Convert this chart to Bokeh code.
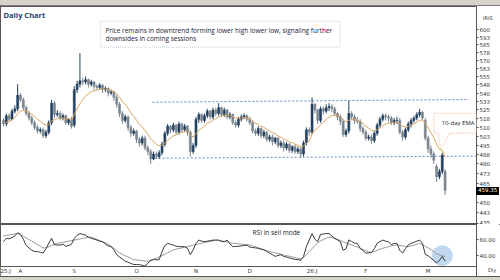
import numpy as np
from bokeh.plotting import figure
from bokeh.models import (Range1d, FixedTicker, Label, BoxAnnotation, PolyAnnotation,
                          ColumnDataSource, Div)
from bokeh.layouts import column
from bokeh.embed import file_html
from bokeh.resources import INLINE

# ---------------- data ----------------
month_labels = ["25:J", "A", "S", "O", "N", "D", "26:J", "F", "M"]
month_start_idx = [0, 6, 25, 47, 68, 87, 109, 128, 150]

open_ = [
    516, 513, 520, 517, 524, 526, 538, 534, 527, 522,
    518, 514, 510, 507, 508, 503, 506, 514, 531, 521,
    522, 518, 520, 514, 517, 512, 543, 548, 551, 550,
    552, 548, 550, 546, 545, 547, 543, 544, 540, 541,
    536, 530, 522, 516, 519, 510, 505, 507, 500, 497,
    501, 493, 490, 484, 488, 486, 489, 496, 505, 511,
    508, 512, 506, 513, 508, 511, 506, 490, 495, 517,
    521, 516, 520, 524, 519, 525, 522, 527, 521, 525,
    519, 521, 514, 512, 517, 519, 520, 517, 514, 507,
    505, 509, 503, 506, 500, 502, 498, 501, 495, 497,
    493, 496, 491, 494, 490, 492, 488, 497, 508, 506,
    530, 525, 516, 526, 524, 527, 528, 526, 522, 519,
    515, 504, 507, 522, 519, 516, 515, 509, 506, 501,
    502, 499, 505, 512, 517, 520, 519, 518, 514, 516,
    516, 506, 502, 508, 513, 516, 518, 521, 523, 516,
    501, 492, 488, 478, 470, 474, 474]
high = [
    518, 522, 522, 526, 529, 548, 540, 536, 529, 524,
    520, 516, 512, 510, 510, 508, 516, 534, 533, 525,
    524, 522, 521, 518, 519, 546, 551, 577, 554, 555,
    553, 552, 551, 548, 549, 548, 546, 545, 543, 542,
    538, 532, 524, 521, 520, 512, 509, 508, 502, 503,
    503, 495, 492, 490, 490, 491, 498, 507, 513, 512,
    514, 513, 515, 514, 513, 512, 508, 497, 519, 523,
    522, 522, 526, 525, 527, 527, 531, 528, 527, 526,
    523, 522, 516, 519, 521, 522, 521, 519, 516, 509,
    511, 510, 508, 507, 504, 504, 502, 502, 499, 499,
    498, 497, 495, 496, 494, 494, 499, 510, 510, 536,
    531, 526, 528, 528, 530, 531, 530, 528, 523, 521,
    517, 509, 533, 524, 521, 519, 517, 511, 508, 504,
    504, 507, 514, 519, 522, 522, 521, 520, 518, 519,
    518, 508, 510, 515, 518, 520, 523, 526, 524, 518,
    503, 495, 490, 480, 476, 489, 476]
low = [
    511, 511, 515, 516, 522, 524, 532, 525, 520, 516,
    512, 508, 505, 505, 501, 501, 504, 512, 518, 519,
    516, 516, 512, 512, 509, 510, 540, 545, 547, 548,
    545, 546, 543, 543, 543, 540, 541, 537, 538, 533,
    527, 519, 513, 514, 507, 502, 503, 497, 494, 495,
    491, 487, 480, 483, 484, 484, 487, 494, 503, 505,
    506, 504, 504, 506, 506, 503, 486, 488, 493, 514,
    514, 514, 518, 517, 517, 520, 520, 519, 519, 517,
    517, 512, 510, 510, 515, 517, 515, 512, 505, 503,
    503, 501, 501, 498, 498, 495, 496, 493, 493, 490,
    491, 489, 489, 488, 488, 485, 486, 495, 503, 504,
    522, 513, 514, 521, 522, 524, 523, 520, 516, 512,
    502, 502, 505, 517, 513, 513, 506, 504, 499, 499,
    496, 497, 503, 510, 515, 516, 515, 512, 512, 513,
    504, 499, 500, 506, 510, 514, 516, 519, 516, 499,
    489, 485, 480, 466, 468, 472, 456]
close = [
    513, 520, 517, 524, 526, 538, 534, 527, 522, 518,
    514, 510, 507, 508, 503, 506, 514, 531, 521, 522,
    518, 520, 514, 517, 511, 543, 548, 551, 550, 552,
    548, 550, 546, 545, 547, 543, 544, 540, 541, 536,
    530, 522, 516, 519, 510, 505, 507, 500, 497, 501,
    493, 490, 484, 488, 486, 489, 496, 505, 511, 508,
    512, 506, 513, 508, 511, 506, 490, 495, 517, 521,
    516, 520, 524, 519, 525, 522, 527, 521, 525, 519,
    521, 514, 512, 517, 519, 520, 517, 514, 507, 505,
    509, 503, 506, 500, 502, 498, 501, 495, 497, 493,
    496, 491, 494, 490, 492, 488, 497, 508, 506, 530,
    525, 516, 526, 524, 527, 528, 526, 522, 519, 515,
    504, 507, 522, 519, 516, 515, 509, 506, 501, 502,
    499, 505, 512, 517, 520, 519, 518, 514, 516, 516,
    506, 502, 508, 513, 516, 518, 521, 523, 518, 501,
    492, 488, 483, 470, 474, 487, 459.35]

rsi = [
    57, 61, 60.5, 62, 64, 68, 66, 60, 52, 49,
    46, 44.5, 44.4, 43.5, 42.5, 48, 55, 61, 53, 52.6,
    52.6, 53.5, 51, 52, 53.5, 61, 65, 67, 66, 65,
    62.5, 61, 60, 58.8, 57.5, 56.7, 54, 51.5, 50.6, 46.5,
    40.4, 37.5, 35, 32.2, 31, 29.5, 28.1, 28.1, 28, 27,
    26, 30, 33, 34.2, 34.2, 34.2, 44.4, 52, 54.7, 53.5,
    52.6, 51, 50.6, 50.6, 50.6, 48.5, 40.4, 46.5, 54.7, 58.8,
    57.5, 56.7, 57.5, 58, 58.8, 58.8, 58.8, 57, 56.7, 58.8,
    54, 50.6, 50.8, 51, 51.5, 52, 52.6, 50, 49.5, 49,
    48.5, 47.3, 46.5, 44.5, 42.4, 40.5, 38.3, 39.5, 40.4, 38.3,
    37.5, 36.3, 35.5, 34.5, 34.2, 33.4, 38.3, 50.6, 58.8, 67,
    60, 56.7, 66, 66.5, 67, 67, 64, 60.8, 59, 56.7,
    46, 48, 59, 57, 55, 54.7, 48.5, 45.5, 42.4, 42.8,
    43, 48, 54.7, 57, 58.8, 57.5, 56.7, 53, 54.7, 54.7,
    46, 42.4, 48, 52.6, 54.7, 56, 57.5, 58.8, 54.7, 41,
    39, 36.3, 33, 30.2, 33, 38.3, 32.5]

rsi_signal = [
    64, 64.7, 65.3, 66, 66.7, 67, 65.5, 63.5, 61.5, 59.5,
    57.5, 55.5, 53.3, 51, 49, 49, 50.5, 52, 53.5, 54.7,
    55.4, 56, 56.7, 57.4, 58.1, 58.8, 59.5, 60.2, 60.9, 61.6,
    62.3, 62.5, 61, 59.6, 58.2, 56.8, 55.4, 53.6, 51, 48.5,
    45.5, 42.5, 41, 39.2, 37.5, 35.8, 34.2, 33.8, 33.4, 33,
    32.5, 32.2, 33.5, 34.8, 36.1, 37.6, 39.3, 41, 42.8, 44.6,
    46.5, 47.4, 48.2, 49, 49.8, 50.6, 51.5, 52.4, 53.2, 54.1,
    55, 55.7, 56.4, 57.1, 57.8, 58.5, 58.6, 57.9, 57.2, 56.5,
    55.6, 54.8, 54.4, 54.1, 53.7, 53.3, 53, 52.6, 51.4, 50.2,
    49, 47.9, 46.7, 45.5, 44.4, 43.5, 42.7, 41.8, 41, 40.1,
    39.2, 38.4, 37.6, 36.8, 36, 35.2, 37, 40.5, 44, 48,
    52, 55, 57.5, 59.5, 61.2, 62.5, 62, 61, 59.8, 58.2,
    56.7, 55.3, 54, 52.6, 51.3, 50, 48.5, 47, 45.5, 44,
    43.5, 44.5, 46, 47.5, 48.5, 49.5, 50.5, 51.5, 52.2, 52.6,
    52.2, 51.4, 50.8, 50.6, 51.5, 52.5, 53.7, 54.7, 53, 51,
    49, 47, 44.5, 41.5, 40.4, 39.2, 38.3]

price_ticks = [435, 442.5, 450, 465, 472.5, 480, 487.5, 495, 502.5, 510, 517.5,
               525, 532.5, 540, 547.5, 555, 562.5, 570, 577.5, 585, 592.5, 600]
price_tick_labels = ["435", "443", "450", "465", "473", "480", "488", "495", "503", "510", "518",
                     "525", "533", "540", "548", "555", "563", "570", "578", "585", "593", "600"]
rsi_ticks = [40, 60]
rsi_tick_labels = ["40.00", "60.00"]

resistance = [531.8, 534.2]
support = [484.6, 486.3]

ema_span = 10

# ---------------- derived ----------------
n = len(close)
idx = list(range(n))
k = 2.0 / (ema_span + 1)
ema = []
e = close[0]
for c in close:
    e = c * k + e * (1 - k)
    ema.append(e)

UP = "#22405f"
DOWN = "#7a858f"
colors = [UP if c >= o else DOWN for o, c in zip(open_, close)]
src = ColumnDataSource(dict(x=idx, o=open_, h=high, l=low, c=close,
                            top=[max(o, c) for o, c in zip(open_, close)],
                            bot=[min(o, c) for o, c in zip(open_, close)],
                            color=colors, ema=ema, rsi=rsi, sig=rsi_signal))

XR = Range1d(-1.06, 167.1)
TEXT_FONT = "Open Sans"
TICK_FONT = "DejaVu Sans"

# ---------------- price panel ----------------
p1 = figure(width=500, height=219, y_axis_type="log", x_range=XR,
            y_range=Range1d(434.1, 623.4), output_backend="svg", toolbar_location=None,
            y_axis_location="right", x_axis_location=None,
            min_border_left=0, min_border_right=24, min_border_top=1, min_border_bottom=0)
p1.xgrid.visible = False
p1.ygrid.visible = False
p1.outline_line_color = "#555555"
p1.outline_line_width = 1
p1.background_fill_color = "white"
p1.border_fill_color = "white"

ya = p1.yaxis[0]
ya.ticker = FixedTicker(ticks=price_ticks, minor_ticks=[])
ya.major_label_overrides = dict(zip(price_ticks, price_tick_labels))
ya.axis_line_color = "#555555"
ya.major_tick_out = 2
ya.major_tick_in = 0
ya.minor_tick_out = 0
ya.minor_tick_in = 0
ya.major_tick_line_color = "#555555"
ya.major_label_standoff = 1
ya.major_label_text_font = TICK_FONT
ya.major_label_text_font_size = "5.5px"
ya.major_label_text_color = "#333333"

# support / resistance dashed lines
p1.segment(x0=[52.6], y0=[resistance[0]], x1=[164.3], y1=[resistance[1]],
           line_color="#5b8fc8", line_dash="2 2", line_width=1)
p1.segment(x0=[52.0], y0=[support[0]], x1=[167.1], y1=[support[1]],
           line_color="#5b8fc8", line_dash="2 2", line_width=1)

p1.segment(x0="x", y0="l", x1="x", y1="h", line_color="color", line_width=1, source=src)
p1.vbar(x="x", width=0.7, top="top", bottom="bot", fill_color="color",
        line_color="color", line_width=0.6, source=src)
p1.line(x="x", y="ema", line_color="#d9a660", line_width=1, source=src)

# note box
p1.add_layout(BoxAnnotation(left=34.3, right=118.8, top=608.3, bottom=582.6,
                            fill_color="white", fill_alpha=1.0, line_color="#7d97b8",
                            line_dash="1 1", line_width=1.5))
p1.add_layout(Label(x=36.0, y=599.0, text="Price remains in downtrend forming lower high lower low, signaling further",
                    text_font=TEXT_FONT, text_font_size="6.5px", text_color="#1b2233",
                    text_baseline="middle"))
p1.add_layout(Label(x=36.0, y=591.4, text="downsides in coming sessions",
                    text_font=TEXT_FONT, text_font_size="6.5px", text_color="#1b2233",
                    text_baseline="middle"))

p1.add_layout(Label(x=0.0, y=615.1, text="Daily Chart", text_font=TEXT_FONT,
                    text_font_size="7.5px", text_font_style="bold", text_color="#1d3f6e",
                    text_baseline="middle"))

# 10-day EMA callout
p1.add_layout(PolyAnnotation(xs=[152.05, 167.1, 167.1, 157.6, 154.4, 153.6, 152.05],
                             ys=[522.1, 522.1, 505.1, 505.1, 492.2, 505.1, 505.1],
                             fill_color="white", fill_alpha=1.0, line_color="#e8804a",
                             line_dash="2 1", line_width=1.3))
p1.add_layout(Label(x=154.8, y=513.5, text="10-day EMA", text_font=TEXT_FONT,
                    text_font_size="6px", text_color="#222222", text_baseline="middle"))

# ---------------- RSI panel ----------------
p2 = figure(width=500, height=52, x_range=XR, y_range=Range1d(25.6, 78.4),
            output_backend="svg", toolbar_location=None,
            y_axis_location="right", x_axis_location="below",
            min_border_left=0, min_border_right=24, min_border_top=0, min_border_bottom=9)
p2.xgrid.visible = False
p2.ygrid.visible = False
p2.outline_line_color = "#555555"
p2.outline_line_width = 1

ra = p2.yaxis[0]
ra.ticker = FixedTicker(ticks=rsi_ticks, minor_ticks=[])
ra.major_label_overrides = dict(zip(rsi_ticks, rsi_tick_labels))
ra.axis_line_color = "#555555"
ra.major_tick_out = 2
ra.major_tick_in = 0
ra.minor_tick_out = 0
ra.major_tick_line_color = "#555555"
ra.major_label_standoff = 1
ra.major_label_text_font = TICK_FONT
ra.major_label_text_font_size = "5.5px"
ra.major_label_text_color = "#333333"

xa = p2.xaxis[0]
xa.ticker = FixedTicker(ticks=month_start_idx, minor_ticks=[])
xa.major_label_overrides = dict(zip(month_start_idx, month_labels))
xa.major_label_text_align = "left"
xa.axis_line_color = "#555555"
xa.major_tick_out = 0
xa.major_tick_in = 0
xa.minor_tick_out = 0
xa.major_label_standoff = 1
xa.major_label_text_font = TICK_FONT
xa.major_label_text_font_size = "5.5px"
xa.major_label_text_color = "#333333"

p2.scatter(x=[idx[-2]], y=[rsi_signal[-2]], size=21, fill_color="#9dc3e6",
           fill_alpha=0.65, line_color=None)
p2.line(x="x", y="sig", line_color="#9a9a9a", line_width=1, source=src)
p2.line(x="x", y="rsi", line_color="#3a3a3a", line_width=1, source=src)

p2.add_layout(Label(x=88.0, y=68.6, text="RSI in sell mode", text_font=TEXT_FONT,
                    text_font_size="6.5px", text_color="#222222", text_baseline="middle"))

# ---------------- page strips and side texts ----------------
top_strip = Div(text="", width=500, height=5, margin=0,
                styles={"background-color": "#d6d3ca"})
bottom_strip = Div(text="", width=500, height=4, margin=0,
                   styles={"background-color": "#d6d3ca", "border-top": "1px solid #555555"})


def side_text(text, left, top, extra=None):
    st = {"position": "absolute", "left": f"{left}px", "top": f"{top}px",
          "font-family": TICK_FONT, "font-size": "5.5px", "line-height": "1",
          "color": "#333333", "white-space": "nowrap", "z-index": "10"}
    if extra:
        st.update(extra)
    return Div(text=text, margin=0, styles=st)


last_tag = side_text(f"{close[-1]:.2f}", 476, 187,
                     {"background-color": "black", "color": "white", "padding": "1px 2px"})
symbol_tag = side_text("IRIS", 483, 16, {"font-size": "5px"})
period_tag = side_text("Dly", 488, 268, {"font-size": "5px"})
axis_tail = side_text("", 476, 267, {"width": "1px", "height": "9px",
                                     "background-color": "#555555"})

body = column(p1, p2, margin=0, styles={"outline": "1px solid #555555", "outline-offset": "-1px"})
layout = column(top_strip, body, bottom_strip, last_tag, symbol_tag, period_tag, axis_tail,
                margin=0, styles={"position": "relative"})

open("out.html", "w").write(file_html(layout, INLINE))
